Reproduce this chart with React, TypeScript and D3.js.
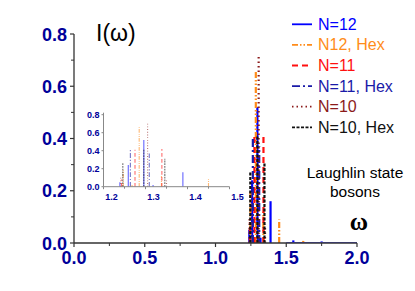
import React from "react";
import * as d3 from "d3";

type Pt = [number, number];

const seriesNames = ["N=12", "N12, Hex", "N=11", "N=11, Hex", "N=10", "N=10, Hex"];
const seriesColors = ["#0000ff", "#ff8c1a", "#ff1010", "#1a1aa8", "#8b1a1a", "#111111"];
const seriesDash = ["", "6,2,1.5,2,1.5,2", "6,4", "8,3,2,3", "1.5,3", "3,1.5"];

const n12: Pt[] = [[1.239, 0.05], [1.259, 0.24], [1.296, 0.52], [1.318, 0.02], [1.389, 0.16], [1.55, 0.01], [1.75, 0.006]];
const n12Hex: Pt[] = [[1.247, 0.2], [1.268, 0.02], [1.285, 0.66], [1.338, 0.12], [1.45, 0.09], [1.62, 0.008]];
const n11: Pt[] = [[1.243, 0.08], [1.275, 0.41], [1.339, 0.42]];
const n11Hex: Pt[] = [[1.264, 0.41], [1.309, 0.37]];
const n10: Pt[] = [[1.241, 0.1], [1.305, 0.72], [1.35, 0.07]];
const n10Hex: Pt[] = [[1.246, 0.27], [1.296, 0.41], [1.346, 0.31]];
const allSeries: Pt[][] = [n12, n12Hex, n11, n11Hex, n10, n10Hex];

const xTicks = [0, 0.5, 1.0, 1.5, 2.0];
const xMinor = [0.25, 0.75, 1.25, 1.75];
const yTicks = [0, 0.2, 0.4, 0.6, 0.8];
const yMinor = [0.1, 0.3, 0.5, 0.7];
const insetXTicks = [1.2, 1.3, 1.4, 1.5];
const insetXMinor = [1.25, 1.35, 1.45];
const insetYTicks = [0, 0.2, 0.4, 0.6, 0.8];

const labelColor = "#00009a";

export default function App() {
  const x = d3.scaleLinear().domain([0, 2]).range([74, 357]);
  const y = d3.scaleLinear().domain([0, 0.8]).range([243, 34]);
  const ix = d3.scaleLinear().domain([1.2, 1.5]).range([103.5, 229.5]);
  const iy = d3.scaleLinear().domain([0, 0.8]).range([186.7, 114.7]);
  const fmt = d3.format(".1f");

  return (
    <svg width={415} height={291} style={{ position: "absolute", left: 0, top: 0, background: "#fff" }}
      fontFamily="'Liberation Sans', Arial, sans-serif">
      {/* main bars */}
      {allSeries.map((s, si) => (
        <g key={"m" + si}>
          {s.map(([w, v], i) => (
            <line key={i} x1={x(w)} x2={x(w)} y1={y(0)} y2={y(v)} stroke={seriesColors[si]}
              strokeWidth={2.2} strokeDasharray={seriesDash[si]} />
          ))}
        </g>
      ))}
      {/* baseline tail */}
      <line x1={x(1.5)} x2={x(2)} y1={y(0) - 0.5} y2={y(0) - 0.5} stroke="#5050ff" strokeWidth={1} />

      {/* main axes */}
      <line x1={x(0)} x2={x(2)} y1={y(0)} y2={y(0)} stroke="#333" strokeWidth={1.3} />
      <line x1={x(0)} x2={x(0)} y1={y(0)} y2={y(0.8)} stroke="#333" strokeWidth={1.3} />
      {xTicks.map((t) => (
        <g key={"xt" + t}>
          <line x1={x(t)} x2={x(t)} y1={y(0)} y2={y(0) + 4} stroke="#333" strokeWidth={1.2} />
          <text x={x(t)} y={264} textAnchor="middle" fontSize={18} fontWeight="bold" fill={labelColor}>{fmt(t)}</text>
        </g>
      ))}
      {xMinor.map((t) => (
        <line key={"xm" + t} x1={x(t)} x2={x(t)} y1={y(0)} y2={y(0) + 3} stroke="#333" strokeWidth={1} />
      ))}
      {yTicks.map((t) => (
        <g key={"yt" + t}>
          <line x1={x(0) - 4} x2={x(0)} y1={y(t)} y2={y(t)} stroke="#333" strokeWidth={1.2} />
          <text x={67} y={y(t) + 6.5} textAnchor="end" fontSize={18} fontWeight="bold" fill={labelColor}>{fmt(t)}</text>
        </g>
      ))}
      {yMinor.map((t) => (
        <line key={"ym" + t} x1={x(0) - 3} x2={x(0)} y1={y(t)} y2={y(t)} stroke="#333" strokeWidth={1} />
      ))}

      {/* axis titles */}
      <text x={96} y={41} fontSize={23} fill="#000">I(ω)</text>
      <text x={359} y={230} textAnchor="middle" fontSize={25} fontWeight="bold" fontFamily="'Liberation Serif', serif" fill="#000">ω</text>
      <text x={355} y={178} textAnchor="middle" fontSize={15.5} fill="#000">Laughlin state</text>
      <text x={355} y={197} textAnchor="middle" fontSize={15.5} fill="#000">bosons</text>

      {/* legend */}
      {seriesNames.map((nm, i) => {
        const cy = 24.3 + i * 20.6;
        return (
          <g key={"lg" + i}>
            <line x1={292} x2={312} y1={cy} y2={cy} stroke={seriesColors[i]} strokeWidth={1.8} strokeDasharray={seriesDash[i]} />
            <text x={318} y={cy + 5.5} fontSize={16} fill={seriesColors[i]}>{nm}</text>
          </g>
        );
      })}

      {/* inset */}
      <g>
        {allSeries.map((s, si) => (
          <g key={"i" + si} opacity={0.6}>
            {s.filter(([w]) => w >= 1.2 && w <= 1.5).map(([w, v], i) => (
              <line key={i} x1={ix(w)} x2={ix(w)} y1={iy(0)} y2={iy(v)} stroke={seriesColors[si]}
                strokeWidth={1.1} strokeDasharray={seriesDash[si] ? seriesDash[si].split(",").map((d) => +d * 0.6).join(",") : ""} />
            ))}
          </g>
        ))}
        <line x1={ix(1.2)} x2={ix(1.5)} y1={iy(0)} y2={iy(0)} stroke="#888" strokeWidth={1} />
        <line x1={ix(1.2)} x2={ix(1.2)} y1={iy(0)} y2={iy(0.8) - 2} stroke="#888" strokeWidth={1} />
        {insetXTicks.map((t) => (
          <g key={"ixt" + t}>
            <line x1={ix(t)} x2={ix(t)} y1={iy(0)} y2={iy(0) + 2.5} stroke="#888" strokeWidth={1} />
            <text x={ix(t) + 8} y={200} textAnchor="middle" fontSize={9} fontWeight="bold" fill={labelColor}>{fmt(t)}</text>
          </g>
        ))}
        {insetXMinor.map((t) => (
          <line key={"ixm" + t} x1={ix(t)} x2={ix(t)} y1={iy(0)} y2={iy(0) + 2} stroke="#888" strokeWidth={1} />
        ))}
        {insetYTicks.map((t) => (
          <g key={"iyt" + t}>
            <line x1={ix(1.2) - 2} x2={ix(1.2)} y1={iy(t)} y2={iy(t)} stroke="#888" strokeWidth={1} />
            <text x={99.5} y={iy(t) + 3.2} textAnchor="end" fontSize={9} fontWeight="bold" fill={labelColor}>{fmt(t)}</text>
          </g>
        ))}
      </g>
    </svg>
  );
}
